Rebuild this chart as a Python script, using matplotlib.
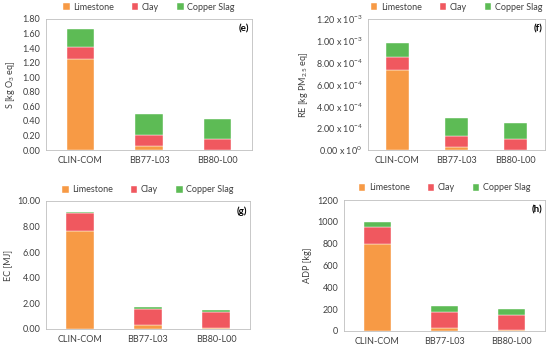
import matplotlib
matplotlib.use("Agg")
import matplotlib.pyplot as plt
import numpy as np
from matplotlib.ticker import FixedLocator, FixedFormatter

plt.rcParams['font.family'] = ['Lato', 'DejaVu Sans']
plt.rcParams['mathtext.fontset'] = 'custom'
plt.rcParams['mathtext.rm'] = 'Lato'
plt.rcParams['mathtext.it'] = 'Lato:italic'
plt.rcParams['mathtext.bf'] = 'Lato:bold'

categories = ["CLIN-COM", "BB77-L03", "BB80-L00"]
series_names = ["Limestone", "Clay", "Copper Slag"]
colors = ["#F79A45", "#F0585F", "#5DBB55"]

# (e) S [kg O3 eq]
e_limestone = [1.25, 0.05, 0.005]
e_clay = [0.16, 0.15, 0.145]
e_slag = [0.25, 0.30, 0.27]

# (f) RE [kg PM2.5 eq]
f_limestone = [7.3e-4, 0.3e-4, 0.02e-4]
f_clay = [1.2e-4, 1.0e-4, 1.03e-4]
f_slag = [1.3e-4, 1.6e-4, 1.4e-4]

# (g) EC [MJ]
g_limestone = [7.65, 0.35, 0.05]
g_clay = [1.40, 1.25, 1.30]
g_slag = [0.10, 0.15, 0.10]

# (h) ADP [kg]
h_limestone = [800, 30, 5]
h_clay = [150, 140, 140]
h_slag = [50, 58, 52]

e_ticks = [0, 0.2, 0.4, 0.6, 0.8, 1.0, 1.2, 1.4, 1.6, 1.8]
e_ticklabels = ["0.00", "0.20", "0.40", "0.60", "0.80", "1.00", "1.20", "1.40", "1.60", "1.80"]
f_ticks = [0, 2e-4, 4e-4, 6e-4, 8e-4, 1.0e-3, 1.2e-3]
f_ticklabels = [r"0.00 x 10$^{0}$", r"2.00 x 10$^{-4}$", r"4.00 x 10$^{-4}$", r"6.00 x 10$^{-4}$",
                r"8.00 x 10$^{-4}$", r"1.00 x 10$^{-3}$", r"1.20 x 10$^{-3}$"]
g_ticks = [0, 2, 4, 6, 8, 10]
g_ticklabels = ["0.00", "2.00", "4.00", "6.00", "8.00", "10.00"]
h_ticks = [0, 200, 400, 600, 800, 1000, 1200]
h_ticklabels = ["0", "200", "400", "600", "800", "1000", "1200"]

W, H = 550, 349
fig = plt.figure(figsize=(W/100, H/100), dpi=100)

def ax_px(left, top, right, bottom):
    return fig.add_axes([left/W, 1 - bottom/H, (right-left)/W, (bottom-top)/H])

panels = [
    dict(rect=(46, 19, 252, 150), data=(e_limestone, e_clay, e_slag), ticks=e_ticks, tl=e_ticklabels,
         ylabel=r"S [kg O$_3$ eq]", tag="(e)", legy=7),
    dict(rect=(368, 19, 545, 150), data=(f_limestone, f_clay, f_slag), ticks=f_ticks, tl=f_ticklabels,
         ylabel=r"RE [kg PM$_{2.5}$ eq]", tag="(f)", legy=7),
    dict(rect=(46, 201, 250, 329), data=(g_limestone, g_clay, g_slag), ticks=g_ticks, tl=g_ticklabels,
         ylabel="EC [MJ]", tag="(g)", legy=190),
    dict(rect=(344, 200, 545, 331), data=(h_limestone, h_clay, h_slag), ticks=h_ticks, tl=h_ticklabels,
         ylabel="ADP [kg]", tag="(h)", legy=188),
]

x = np.arange(len(categories))
fs = 6.5
for p in panels:
    l, t, r, b = p["rect"]
    ax = ax_px(l, t, r, b)
    bottom = np.zeros(len(categories))
    handles = []
    for vals, name, c in zip(p["data"], series_names, colors):
        h = ax.bar(x, vals, 0.4, bottom=bottom, color=c, edgecolor="#FFFFFF", linewidth=0.3, label=name)
        bottom = bottom + np.array(vals)
        handles.append(h)
    ax.set_xlim(-0.5, 2.5)
    ax.set_ylim(p["ticks"][0], p["ticks"][-1])
    ax.yaxis.set_major_locator(FixedLocator(p["ticks"]))
    ax.yaxis.set_major_formatter(FixedFormatter(p["tl"]))
    ax.set_xticks(x)
    ax.set_xticklabels(categories)
    ax.tick_params(axis="both", length=0, labelsize=fs, colors="#404040", pad=4)
    for s in ax.spines.values():
        s.set_color("#BFBFBF")
        s.set_linewidth(0.6)
    ax.set_ylabel(p["ylabel"], fontsize=fs, color="#404040", labelpad=4)
    ax.text(0.985, 0.955, p["tag"], transform=ax.transAxes, ha="right", va="top",
            fontsize=7, fontweight="bold", color="black")
    cx = ((l + r) / 2) / W
    fig.legend(handles=handles, labels=series_names, loc="center",
               bbox_to_anchor=(cx, 1 - p["legy"]/H), ncol=3, frameon=False,
               fontsize=fs, handlelength=0.7, handleheight=0.7, handletextpad=0.4,
               columnspacing=2.0, labelcolor="#404040")

fig.savefig("out.png", dpi=100)
